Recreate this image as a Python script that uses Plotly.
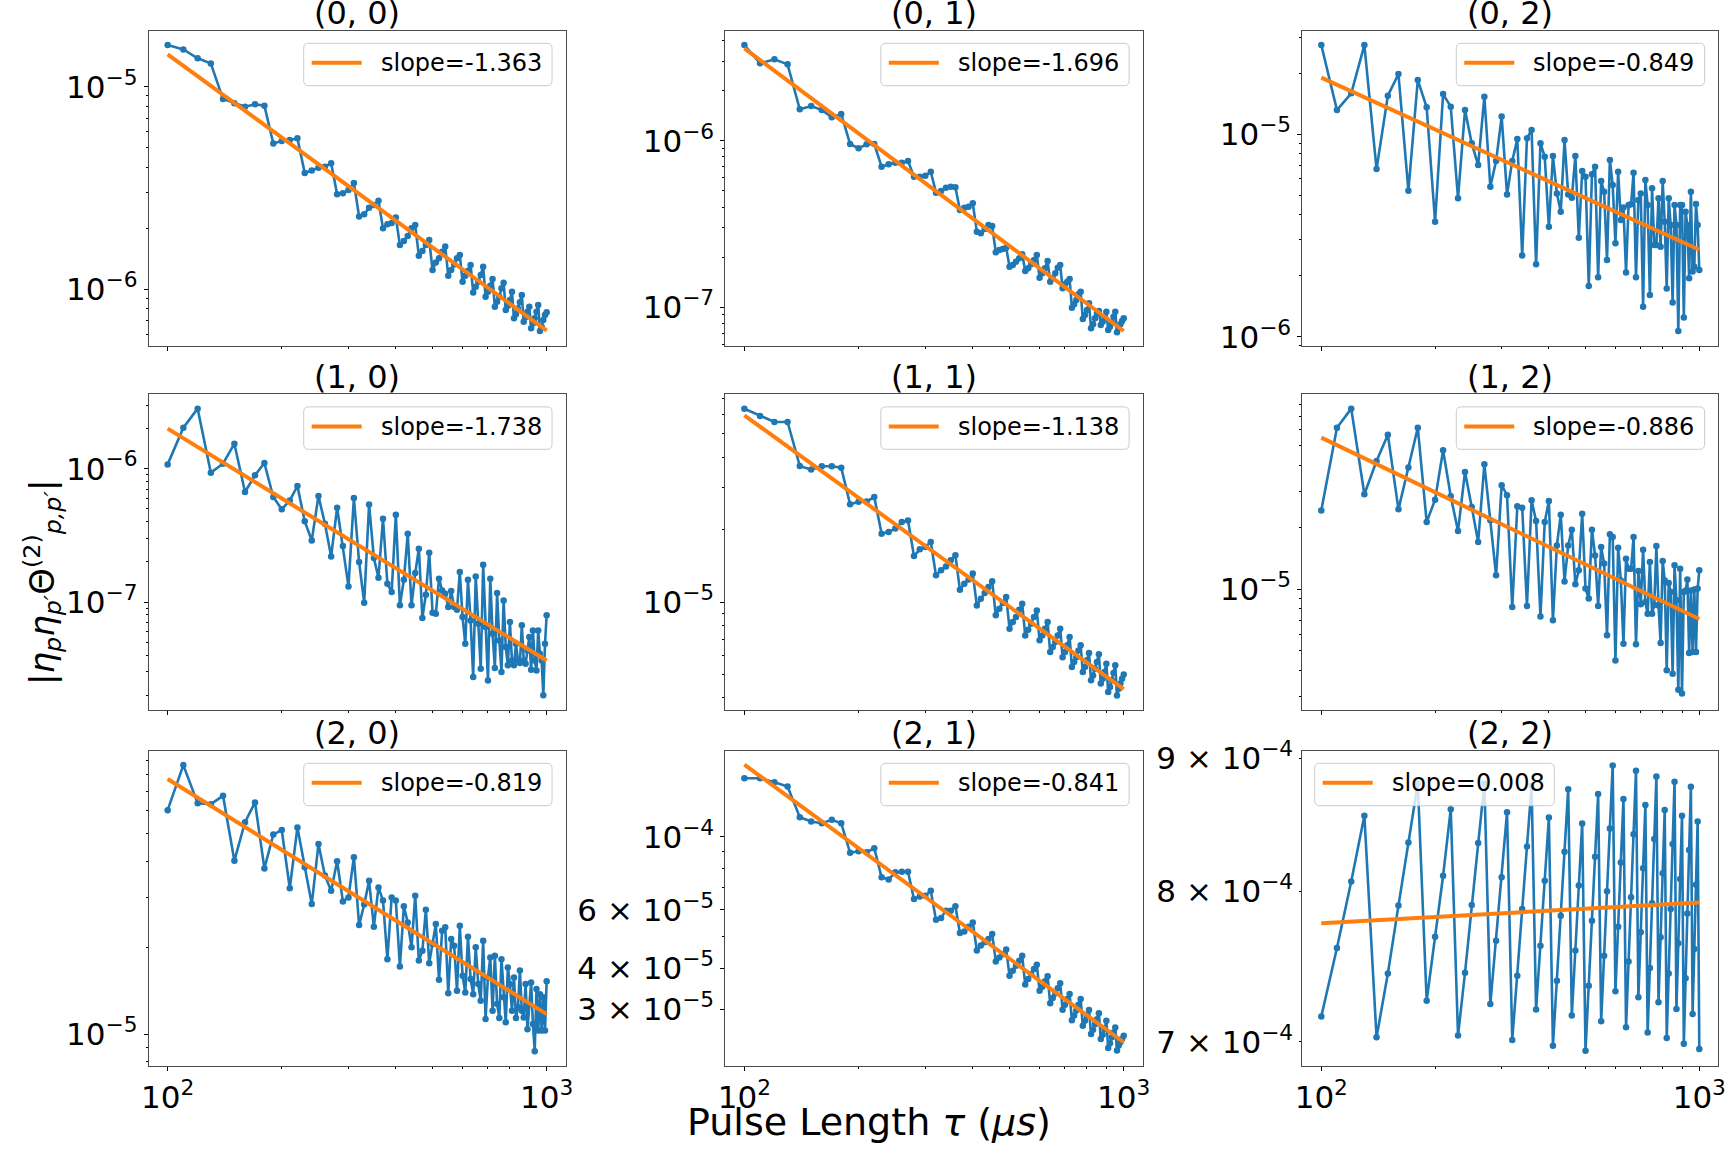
import math
import plotly.graph_objects as go

W, H = 1725, 1150
FONT = "DejaVu Sans"

# ---------------- data ----------------
tau_us = [100, 110, 120, 130, 140, 150, 160, 170, 180, 190,
          200, 210, 220, 230, 240, 250, 260, 270, 280, 290,
          300, 310, 320, 330, 340, 350, 360, 370, 380, 390,
          400, 410, 420, 430, 440, 450, 460, 470, 480, 490,
          500, 510, 520, 530, 540, 550, 560, 570, 580, 590,
          600, 610, 620, 630, 640, 650, 660, 670, 680, 690,
          700, 710, 720, 730, 740, 750, 760, 770, 780, 790,
          800, 810, 820, 830, 840, 850, 860, 870, 880, 890,
          900, 910, 920, 930, 940, 950, 960, 970, 980, 990,
          1000]

# log10 of |eta_p eta_p' Theta^(2)_{p,p'}| for each (p, p') panel
theta_00_log10 = [-4.794, -4.816, -4.860, -4.885, -5.061, -5.082, -5.099, -5.087, -5.094, -5.280,
                  -5.268, -5.263, -5.255, -5.426, -5.414, -5.400, -5.395, -5.378, -5.531, -5.526,
                  -5.510, -5.475, -5.640, -5.630, -5.597, -5.584, -5.563, -5.699, -5.679, -5.673,
                  -5.645, -5.781, -5.762, -5.737, -5.699, -5.683, -5.834, -5.811, -5.781, -5.757,
                  -5.905, -5.867, -5.847, -5.814, -5.789, -5.933, -5.905, -5.877, -5.847, -5.831,
                  -5.962, -5.933, -5.908, -5.880, -6.015, -5.987, -5.962, -5.929, -5.888, -6.036,
                  -6.012, -5.982, -5.949, -6.086, -6.061, -6.036, -5.995, -5.967, -6.102, -6.081,
                  -6.053, -6.012, -6.143, -6.123, -6.094, -6.064, -6.028, -6.160, -6.138, -6.110,
                  -6.086, -6.192, -6.168, -6.143, -6.110, -6.077, -6.206, -6.184, -6.151, -6.127,
                  -6.113]

theta_01_log10 = [-5.426, -5.536, -5.512, -5.542, -5.812, -5.792, -5.816, -5.860, -5.840, -6.020,
                  -6.046, -6.022, -6.020, -6.156, -6.142, -6.132, -6.132, -6.122, -6.216, -6.216,
                  -6.210, -6.186, -6.312, -6.302, -6.282, -6.276, -6.280, -6.416, -6.402, -6.396,
                  -6.376, -6.546, -6.556, -6.530, -6.506, -6.512, -6.670, -6.656, -6.650, -6.642,
                  -6.756, -6.746, -6.726, -6.706, -6.682, -6.782, -6.766, -6.742, -6.716, -6.686,
                  -6.822, -6.796, -6.766, -6.722, -6.846, -6.826, -6.796, -6.762, -6.746, -6.886,
                  -6.862, -6.846, -6.830, -7.002, -6.982, -6.956, -6.922, -6.906, -7.070, -7.046,
                  -7.016, -6.976, -7.126, -7.102, -7.066, -7.036, -7.022, -7.106, -7.086, -7.062,
                  -7.026, -7.136, -7.116, -7.090, -7.056, -7.026, -7.150, -7.126, -7.102, -7.082,
                  -7.066]

theta_02_log10 = [-4.561, -4.882, -4.799, -4.561, -5.173, -4.811, -4.704, -5.280, -4.734, -4.868,
                  -5.433, -4.803, -4.865, -5.317, -4.882, -5.046, -5.153, -4.816, -5.260, -5.133,
                  -4.914, -5.298, -5.133, -5.025, -5.600, -5.021, -4.980, -5.643, -5.046, -5.112,
                  -5.457, -5.109, -5.293, -5.383, -5.030, -5.298, -5.314, -5.109, -5.512, -5.183,
                  -5.211, -5.750, -5.199, -5.161, -5.707, -5.232, -5.285, -5.622, -5.128, -5.252,
                  -5.539, -5.186, -5.424, -5.363, -5.683, -5.350, -5.347, -5.191, -5.707, -5.326,
                  -5.293, -5.852, -5.227, -5.350, -5.794, -5.268, -5.548, -5.548, -5.317, -5.556,
                  -5.232, -5.433, -5.762, -5.317, -5.449, -5.831, -5.350, -5.449, -5.972, -5.350,
                  -5.350, -5.906, -5.383, -5.449, -5.712, -5.285, -5.679, -5.655, -5.345, -5.449,
                  -5.671]

theta_10_log10 = [-5.968, -5.693, -5.550, -6.030, -5.963, -5.813, -6.175, -6.050, -5.958, -6.213,
                  -6.305, -6.238, -6.130, -6.395, -6.538, -6.205, -6.413, -6.658, -6.293, -6.580,
                  -6.883, -6.220, -6.700, -7.005, -6.268, -6.670, -6.818, -6.375, -6.863, -6.925,
                  -6.345, -7.025, -6.833, -6.488, -7.025, -6.783, -6.600, -7.120, -6.945, -6.630,
                  -7.080, -7.088, -6.825, -6.913, -6.938, -7.038, -6.918, -7.038, -7.058, -6.775,
                  -7.113, -7.313, -6.833, -7.138, -7.563, -6.808, -7.163, -7.500, -6.720, -7.188,
                  -7.588, -6.825, -7.238, -7.495, -6.933, -7.288, -7.525, -6.988, -7.338, -7.475,
                  -7.150, -7.438, -7.475, -7.313, -7.438, -7.458, -7.175, -7.438, -7.463, -7.363,
                  -7.263, -7.508, -7.213, -7.438, -7.513, -7.213, -7.388, -7.438, -7.700, -7.313,
                  -7.100]

theta_11_log10 = [-4.197, -4.227, -4.252, -4.252, -4.435, -4.450, -4.436, -4.436, -4.442, -4.594,
                  -4.584, -4.582, -4.564, -4.716, -4.709, -4.695, -4.668, -4.661, -4.809, -4.781,
                  -4.771, -4.751, -4.889, -4.868, -4.852, -4.827, -4.806, -4.949, -4.924, -4.907,
                  -4.882, -5.014, -4.986, -4.963, -4.938, -4.914, -5.055, -5.028, -5.004, -4.979,
                  -5.111, -5.083, -5.062, -5.032, -5.007, -5.139, -5.115, -5.090, -5.062, -5.035,
                  -5.159, -5.139, -5.111, -5.083, -5.208, -5.187, -5.166, -5.139, -5.111, -5.229,
                  -5.208, -5.180, -5.145, -5.270, -5.249, -5.229, -5.201, -5.180, -5.291, -5.270,
                  -5.242, -5.212, -5.325, -5.305, -5.277, -5.249, -5.217, -5.339, -5.319, -5.291,
                  -5.256, -5.374, -5.353, -5.325, -5.295, -5.263, -5.388, -5.360, -5.339, -5.319,
                  -5.301]

theta_12_log10 = [-4.616, -4.212, -4.119, -4.537, -4.375, -4.246, -4.611, -4.407, -4.212, -4.673,
                  -4.564, -4.322, -4.547, -4.717, -4.428, -4.599, -4.770, -4.391, -4.664, -4.933,
                  -4.493, -4.542, -5.088, -4.596, -4.603, -5.083, -4.567, -4.668, -5.134, -4.673,
                  -4.570, -5.153, -4.787, -4.637, -4.963, -4.787, -4.710, -4.977, -4.909, -4.632,
                  -4.998, -5.047, -4.710, -4.836, -5.083, -4.795, -4.876, -5.226, -4.733, -4.746,
                  -5.349, -4.798, -4.958, -5.267, -4.852, -4.901, -4.901, -4.746, -5.270, -4.912,
                  -5.075, -4.808, -5.064, -5.121, -4.868, -5.121, -5.077, -4.790, -5.080, -5.264,
                  -4.863, -4.958, -5.397, -4.971, -5.015, -5.414, -4.884, -5.055, -5.492, -4.901,
                  -5.511, -5.015, -5.007, -4.954, -5.313, -5.007, -5.308, -5.003, -5.308, -4.998,
                  -4.909]

theta_20_log10 = [-4.220, -4.063, -4.196, -4.199, -4.170, -4.396, -4.262, -4.193, -4.423, -4.305,
                  -4.289, -4.492, -4.280, -4.419, -4.547, -4.338, -4.448, -4.501, -4.398, -4.538,
                  -4.524, -4.384, -4.620, -4.549, -4.466, -4.626, -4.489, -4.535, -4.739, -4.524,
                  -4.535, -4.765, -4.555, -4.611, -4.698, -4.518, -4.744, -4.710, -4.567, -4.753,
                  -4.686, -4.617, -4.811, -4.640, -4.628, -4.858, -4.669, -4.692, -4.849, -4.623,
                  -4.797, -4.855, -4.661, -4.808, -4.861, -4.698, -4.826, -4.884, -4.675, -4.948,
                  -4.803, -4.733, -4.919, -4.727, -4.895, -4.944, -4.739, -4.872, -4.959, -4.768,
                  -4.826, -4.919, -4.803, -4.944, -4.907, -4.779, -4.919, -4.942, -4.826, -4.983,
                  -4.895, -4.820, -4.965, -5.060, -4.843, -4.988, -4.861, -4.988, -4.872, -4.988,
                  -4.816]

theta_21_log10 = [-3.823, -3.823, -3.835, -3.848, -3.941, -3.954, -3.959, -3.949, -3.959, -4.049,
                  -4.044, -4.047, -4.035, -4.123, -4.130, -4.108, -4.106, -4.106, -4.189, -4.181,
                  -4.179, -4.164, -4.252, -4.246, -4.224, -4.224, -4.211, -4.292, -4.287, -4.273,
                  -4.260, -4.345, -4.330, -4.320, -4.310, -4.295, -4.378, -4.366, -4.356, -4.342,
                  -4.421, -4.406, -4.391, -4.376, -4.361, -4.448, -4.431, -4.416, -4.401, -4.388,
                  -4.467, -4.455, -4.438, -4.423, -4.505, -4.489, -4.475, -4.459, -4.444, -4.524,
                  -4.509, -4.492, -4.477, -4.556, -4.542, -4.527, -4.509, -4.492, -4.573, -4.558,
                  -4.542, -4.525, -4.598, -4.585, -4.568, -4.553, -4.535, -4.613, -4.600, -4.583,
                  -4.558, -4.640, -4.626, -4.608, -4.593, -4.578, -4.648, -4.633, -4.623, -4.613,
                  -4.603]

theta_22_log10 = [-3.1452, -3.1188, -3.0932, -3.0679, -3.1532, -3.1286, -3.1025, -3.0782, -3.0555, -3.1391,
                  -3.1145, -3.0910, -3.0654, -3.1525, -3.1283, -3.1023, -3.0784, -3.0555, -3.1404, -3.1160,
                  -3.0916, -3.0666, -3.1542, -3.1295, -3.1038, -3.0798, -3.0564, -3.1425, -3.1179, -3.0929,
                  -3.0686, -3.1564, -3.1314, -3.1064, -3.0818, -3.0577, -3.1448, -3.1198, -3.0948, -3.0709,
                  -3.1583, -3.1333, -3.1083, -3.0837, -3.0596, -3.1470, -3.1218, -3.0970, -3.0728, -3.0486,
                  -3.1355, -3.1106, -3.0859, -3.0615, -3.1493, -3.1240, -3.0993, -3.0750, -3.0506, -3.1378,
                  -3.1128, -3.0881, -3.0638, -3.1513, -3.1265, -3.1016, -3.0769, -3.0528, -3.1397, -3.1147,
                  -3.0901, -3.0657, -3.1534, -3.1286, -3.1038, -3.0788, -3.0548, -3.1423, -3.1170, -3.0923,
                  -3.0679, -3.1557, -3.1305, -3.1055, -3.0811, -3.0568, -3.1442, -3.1192, -3.0945, -3.0701,
                  -3.1577]

# power-law fits: slope and log10 value of the fit at tau = 100 us
fit_slope = [-1.363, -1.696, -0.849, -1.738, -1.138, -0.886, -0.819, -0.841, 0.008]
fit_log10_at_100 = [-4.8405, -5.446, -4.722, -5.700, -4.2244, -4.2606, -4.1115, -3.7818, -3.1093]

panel_titles = ["(0, 0)", "(0, 1)", "(0, 2)", "(1, 0)", "(1, 1)", "(1, 2)", "(2, 0)", "(2, 1)", "(2, 2)"]
series_log10 = [theta_00_log10, theta_01_log10, theta_02_log10,
                theta_10_log10, theta_11_log10, theta_12_log10,
                theta_20_log10, theta_21_log10, theta_22_log10]

# y tick labels
y_tick_vals = [[1e-5, 1e-6], [1e-6, 1e-7], [1e-5, 1e-6],
               [1e-6, 1e-7], [1e-5], [1e-5],
               [1e-5], [1e-4, 6e-5, 4e-5, 3e-5], [9e-4, 8e-4, 7e-4]]
y_tick_text = [["10<sup>−5</sup>", "10<sup>−6</sup>"], ["10<sup>−6</sup>", "10<sup>−7</sup>"],
               ["10<sup>−5</sup>", "10<sup>−6</sup>"], ["10<sup>−6</sup>", "10<sup>−7</sup>"],
               ["10<sup>−5</sup>"], ["10<sup>−5</sup>"], ["10<sup>−5</sup>"],
               ["10<sup>−4</sup>", "6 × 10<sup>−5</sup>", "4 × 10<sup>−5</sup>", "3 × 10<sup>−5</sup>"],
               ["9 × 10<sup>−4</sup>", "8 × 10<sup>−4</sup>", "7 × 10<sup>−4</sup>"]]
x_tick_vals = [100, 1000]
x_tick_text = ["10<sup>2</sup>", "10<sup>3</sup>"]
x_minor_vals = [200, 300, 400, 500, 600, 700, 800, 900]

# ---------------- layout geometry ----------------
y_ranges_log10 = [[-6.2796, -4.7237], [-7.232, -5.34], [-6.0461, -4.4901],
                  [-7.8075, -5.4425], [-5.4474, -4.1371], [-5.5896, -4.0489],
                  [-5.1103, -4.0128], [-4.6939, -3.7394], [-3.1641, -3.0429]]
col_px = [(148.7, 565.6), (725.4, 1142.7), (1302.4, 1718.2)]
row_px = [(30.7, 346.0), (394.3, 709.7), (750.7, 1065.7)]

BLUE = "#1f77b4"
ORANGE = "#ff7f0e"
FRAME = "#4a4a4a"
TICK_SIZE = 31
LEGEND_SIZE = 24

# DejaVu Sans advance widths (per 1000 em) for legend label sizing
DJV = {"s": 521, "l": 278, "o": 612, "p": 635, "e": 615, "=": 838, "-": 361, ".": 318,
       "0": 636, "1": 636, "2": 636, "3": 636, "4": 636, "5": 636, "6": 636, "7": 636, "8": 636, "9": 636}


def px_x(px):
    return px / W


def px_y(py):
    return 1 - py / H


def minor_vals(lo, hi, exclude):
    vals = []
    for d in range(int(math.floor(lo)) - 1, int(math.ceil(hi)) + 1):
        for m in range(2, 10):
            v = m * 10 ** d
            lv = math.log10(v)
            if lo <= lv <= hi and all(abs(v - e) / e > 1e-6 for e in exclude):
                vals.append(v)
    return vals


def rounded_box(l, t, r, b, rad=5):
    pts = [("M", [(l + rad, t)]), ("L", [(r - rad, t)]), ("Q", [(r, t), (r, t + rad)]),
           ("L", [(r, b - rad)]), ("Q", [(r, b), (r - rad, b)]), ("L", [(l + rad, b)]),
           ("Q", [(l, b), (l, b - rad)]), ("L", [(l, t + rad)]), ("Q", [(l, t), (l + rad, t)])]
    s = ""
    for cmd, ps in pts:
        s += cmd + " ".join(f"{px_x(x):.6f},{px_y(y):.6f}" for x, y in ps) + " "
    return s + "Z"


fig = go.Figure()
layout = dict(width=W, height=H, autosize=False,
              margin=dict(l=0, r=0, t=0, b=0, pad=0, autoexpand=False),
              paper_bgcolor="white", plot_bgcolor="white",
              font=dict(family=FONT, color="black"),
              showlegend=False,
              annotations=[], shapes=[])

for i in range(9):
    r, c = divmod(i, 3)
    sfx = "" if i == 0 else str(i + 1)
    ys = [10 ** v for v in series_log10[i]]
    fig.add_trace(go.Scatter(x=tau_us, y=ys, mode="lines+markers",
                             line=dict(color=BLUE, width=2.6),
                             marker=dict(color=BLUE, size=6.5),
                             xaxis="x" + sfx, yaxis="y" + sfx,
                             showlegend=False, hoverinfo="skip"))
    fx = [tau_us[0], tau_us[-1]]
    fy = [10 ** (fit_log10_at_100[i] + fit_slope[i] * math.log10(x / tau_us[0])) for x in fx]
    label = f"slope={fit_slope[i]:.3f}"
    fig.add_trace(go.Scatter(x=fx, y=fy, mode="lines",
                             line=dict(color=ORANGE, width=4),
                             name=label, xaxis="x" + sfx, yaxis="y" + sfx,
                             showlegend=False))

    xl, xr = col_px[c]
    yt, yb = row_px[r]
    common = dict(showline=True, mirror=True, linecolor=FRAME, linewidth=1,
                  showgrid=False, zeroline=False, ticks="outside", tickwidth=1,
                  tickcolor="black", ticklabeloverflow="allow",
                  tickfont=dict(family=FONT, size=TICK_SIZE, color="black"))
    layout["xaxis" + sfx] = dict(type="log", range=[1.95, 3.05], domain=[xl / W, xr / W],
                                 anchor="y" + sfx, ticklen=4, automargin=False,
                                 tickmode="array", tickvals=x_tick_vals, ticktext=x_tick_text,
                                 showticklabels=(r == 2),
                                 minor=dict(tickmode="array", tickvals=x_minor_vals, ticks="outside",
                                            ticklen=2, tickwidth=1, tickcolor="black", showgrid=False),
                                 **common)
    lo, hi = y_ranges_log10[i]
    layout["yaxis" + sfx] = dict(type="log", range=[lo, hi], domain=[1 - yb / H, 1 - yt / H],
                                 anchor="x" + sfx, ticklen=(2 if i == 8 else 4), automargin=False,
                                 tickmode="array", tickvals=y_tick_vals[i], ticktext=y_tick_text[i],
                                 minor=dict(tickmode="array", tickvals=minor_vals(lo, hi, y_tick_vals[i]),
                                            ticks="outside", ticklen=2, tickwidth=1,
                                            tickcolor="black", showgrid=False),
                                 **common)

    # matplotlib-style legend box drawn inside each panel
    tw = LEGEND_SIZE * sum(DJV[ch] for ch in label) / 1000
    bw = 8 + 50 + 19 + tw + 10
    bh = 42.4
    bl = (xl + 12.3) if i == 8 else (xr - 13.6 - bw)
    bt = yt + 12.6
    ly = bt + 19.5
    layout["shapes"].append(dict(type="path", path=rounded_box(bl, bt, bl + bw, bt + bh),
                                 xref="paper", yref="paper", fillcolor="rgba(255,255,255,0.8)",
                                 line=dict(color="#cccccc", width=1), layer="above"))
    layout["shapes"].append(dict(type="line", xref="paper", yref="paper",
                                 x0=px_x(bl + 8), x1=px_x(bl + 58), y0=px_y(ly), y1=px_y(ly),
                                 line=dict(color=ORANGE, width=4), layer="above"))
    layout["annotations"].append(dict(text=label, x=px_x(bl + 76), y=px_y(ly + 0.5),
                                      xref="paper", yref="paper", xanchor="left", yanchor="middle",
                                      showarrow=False, borderpad=0,
                                      font=dict(family=FONT, size=LEGEND_SIZE, color="black")))
    # panel title
    layout["annotations"].append(dict(text=panel_titles[i], x=px_x((xl + xr) / 2), y=px_y(yt - 17.5),
                                      xref="paper", yref="paper", xanchor="center", yanchor="middle",
                                      showarrow=False, font=dict(family=FONT, size=32, color="black")))

layout["annotations"].append(dict(text="Pulse Length <i>τ</i> (<i>μs</i>)", x=px_x(869), y=px_y(1122),
                                  xref="paper", yref="paper", xanchor="center", yanchor="middle",
                                  showarrow=False, font=dict(family=FONT, size=38, color="black")))
layout["annotations"].append(dict(text="|<i>η</i><sub><i>p</i></sub><i>η</i><sub><i>p′</i></sub>Θ<sup>(2)</sup><sub><i>p,p′</i></sub>|",
                                  x=px_x(42), y=px_y(583), textangle=-90,
                                  xref="paper", yref="paper", xanchor="center", yanchor="middle",
                                  showarrow=False, font=dict(family=FONT, size=34, color="black")))

fig.update_layout(**layout)
fig.write_html("out.html")
